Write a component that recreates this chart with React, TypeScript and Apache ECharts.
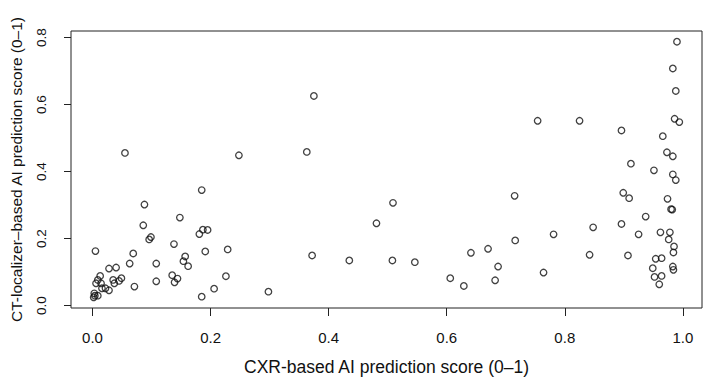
import React, { useEffect, useRef } from "react";
import * as echarts from "echarts";

const xTicks = [0, 0.2, 0.4, 0.6, 0.8, 1.0];
const yTicks = [0, 0.2, 0.4, 0.6, 0.8];

const xTitle = "CXR-based AI prediction score (0–1)";
const yTitle = "CT-localizer–based AI prediction score (0–1)";

// CXR-based score (x) and CT-localizer-based score (y)
const cxrScore = [
  // bottom-left cluster
  0.005, 0.013, 0.006, 0.009, 0.0145, 0.016, 0.022, 0.028, 0.028, 0.040, 0.035, 0.037, 0.045, 0.049,
  0.003, 0.004, 0.002, 0.009, 0.063, 0.069, 0.071,
  // left-middle
  0.055, 0.248, 0.185, 0.088, 0.148, 0.086, 0.181, 0.187, 0.195, 0.096, 0.099, 0.138, 0.108, 0.157,
  0.154, 0.162, 0.191, 0.229, 0.135, 0.144, 0.139, 0.226, 0.108, 0.206, 0.185,
  // middle
  0.375, 0.363, 0.509, 0.481, 0.372, 0.435, 0.508, 0.546, 0.298, 0.754, 0.825, 0.715, 0.848, 0.781,
  0.716, 0.641, 0.670, 0.842, 0.687, 0.764, 0.606, 0.682, 0.629,
  // right cluster
  0.990, 0.983, 0.988, 0.986, 0.994, 0.966, 0.973, 0.983, 0.912, 0.951, 0.983, 0.988, 0.899, 0.909,
  0.974, 0.980, 0.982, 0.937, 0.896, 0.925, 0.962, 0.978, 0.976, 0.985, 0.984, 0.907, 0.954, 0.964,
  0.949, 0.983, 0.984, 0.952, 0.964, 0.960, 0.896,
];
const ctScore = [
  0.163, 0.089, 0.067, 0.077, 0.067, 0.052, 0.052, 0.046, 0.111, 0.114, 0.077, 0.067, 0.074, 0.082,
  0.037, 0.030, 0.025, 0.030, 0.126, 0.156, 0.057,
  0.456, 0.449, 0.345, 0.302, 0.263, 0.240, 0.214, 0.227, 0.226, 0.198, 0.205, 0.184, 0.126, 0.147,
  0.133, 0.118, 0.162, 0.168, 0.091, 0.081, 0.070, 0.088, 0.073, 0.051, 0.027,
  0.626, 0.459, 0.307, 0.246, 0.150, 0.135, 0.135, 0.130, 0.042, 0.552, 0.552, 0.328, 0.234, 0.213,
  0.195, 0.158, 0.170, 0.152, 0.117, 0.099, 0.082, 0.076, 0.059,
  0.788, 0.708, 0.641, 0.558, 0.548, 0.506, 0.458, 0.446, 0.424, 0.404, 0.392, 0.375, 0.337, 0.321,
  0.319, 0.288, 0.287, 0.266, 0.244, 0.213, 0.219, 0.219, 0.198, 0.177, 0.159, 0.150, 0.140, 0.142,
  0.112, 0.117, 0.107, 0.086, 0.089, 0.064, 0.523,
];

export default function App() {
  const ref = useRef<HTMLDivElement>(null);
  useEffect(() => {
    if (!ref.current) return;
    const chart = echarts.init(ref.current, undefined, { renderer: "svg" });
    const data = cxrScore.map((x, i) => [x, ctScore[i]]);
    const font = "Liberation Sans, Arial, Helvetica, sans-serif";
    chart.setOption({
      animation: false,
      backgroundColor: "#ffffff",
      grid: {
        left: 65,
        right: 4,
        top: 31,
        bottom: 72,
        show: true,
        borderColor: "#222",
        borderWidth: 1,
        backgroundColor: "transparent",
      },
      xAxis: {
        type: "value",
        min: -0.0364,
        max: 1.0324,
        splitLine: { show: false },
        axisLine: { show: false, onZero: false },
        axisTick: {
          show: true,
          customValues: xTicks,
          length: 8,
          lineStyle: { color: "#222", width: 1 },
        },
        axisLabel: {
          customValues: xTicks,
          formatter: (v: number) => v.toFixed(1),
          color: "#111",
          fontSize: 15,
          fontFamily: font,
          margin: 22,
        },
        name: xTitle,
        nameLocation: "middle",
        nameGap: 50,
        nameTextStyle: { color: "#111", fontSize: 17.5, fontFamily: font },
      },
      yAxis: {
        type: "value",
        min: -0.0068,
        max: 0.8199,
        splitLine: { show: false },
        axisLine: { show: false, onZero: false },
        axisTick: {
          show: true,
          customValues: yTicks,
          length: 7,
          lineStyle: { color: "#222", width: 1 },
        },
        axisLabel: {
          customValues: yTicks,
          formatter: (v: number) => v.toFixed(1),
          rotate: 90,
          color: "#111",
          fontSize: 13.5,
          fontFamily: font,
          margin: 23,
        },
        name: yTitle,
        nameLocation: "middle",
        nameGap: 47,
        nameTextStyle: { color: "#111", fontSize: 15.5, fontFamily: font },
      },
      series: [
        {
          type: "scatter",
          data,
          symbol: "circle",
          symbolSize: 6.5,
          itemStyle: {
            color: "rgba(255,255,255,0)",
            borderColor: "#111",
            borderWidth: 1.3,
          },
        },
      ],
    });
    return () => chart.dispose();
  }, []);
  return (
    <div
      ref={ref}
      style={{ position: "absolute", left: 0, top: 0, width: 706, height: 381 }}
    />
  );
}
